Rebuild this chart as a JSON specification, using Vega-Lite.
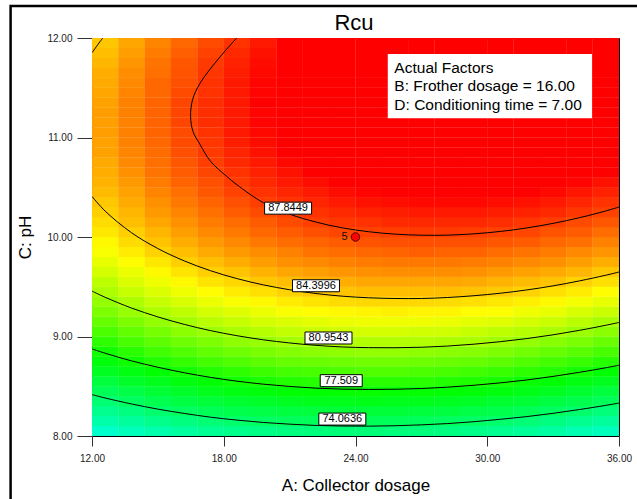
{
  "$schema": "https://vega.github.io/schema/vega-lite/v6.json",
  "width": 527,
  "height": 398,
  "autosize": {"type": "none"},
  "padding": {"left": 92, "top": 38, "right": 18, "bottom": 63},
  "background": "#ffffff",
  "config": {
    "font": "Liberation Sans",
    "view": {"stroke": "#000000", "strokeWidth": 1},
    "axis": {"grid": false, "domain": false, "labelFlush": false, "labelFont": "Liberation Sans", "labelFontSize": 10, "labelColor": "#222222", "tickColor": "#333333", "titleFont": "Liberation Sans", "titleFontSize": 17, "titleFontWeight": "normal", "titleColor": "#000000"},
    "axisX": {"tickSize": 10, "labelPadding": 7, "titlePadding": 14},
    "axisY": {"tickSize": 15, "labelPadding": 5, "titlePadding": 12}
  },
  "datasets": {
    "grid": [
      {"A":12.6,"C":8.05,"R":71.1},{"A":12.6,"C":8.15,"R":72.1},{"A":12.6,"C":8.25,"R":72.9},{"A":12.6,"C":8.35,"R":73.8},{"A":12.6,"C":8.45,"R":74.6},{"A":12.6,"C":8.55,"R":75.4},{"A":12.6,"C":8.65,"R":76.2},{"A":12.6,"C":8.75,"R":76.9},{"A":12.6,"C":8.85,"R":77.6},{"A":12.6,"C":8.95,"R":78.3},
      {"A":12.6,"C":9.05,"R":79.0},{"A":12.6,"C":9.15,"R":79.6},{"A":12.6,"C":9.25,"R":80.2},{"A":12.6,"C":9.35,"R":80.7},{"A":12.6,"C":9.45,"R":81.3},{"A":12.6,"C":9.55,"R":81.7},{"A":12.6,"C":9.65,"R":82.2},{"A":12.6,"C":9.75,"R":82.7},{"A":12.6,"C":9.85,"R":83.1},{"A":12.6,"C":9.95,"R":83.4},
      {"A":12.6,"C":10.05,"R":83.8},{"A":12.6,"C":10.15,"R":84.1},{"A":12.6,"C":10.25,"R":84.4},{"A":12.6,"C":10.35,"R":84.6},{"A":12.6,"C":10.45,"R":84.9},{"A":12.6,"C":10.55,"R":85.1},{"A":12.6,"C":10.65,"R":85.2},{"A":12.6,"C":10.75,"R":85.3},{"A":12.6,"C":10.85,"R":85.5},{"A":12.6,"C":10.95,"R":85.5},
      {"A":12.6,"C":11.05,"R":85.6},{"A":12.6,"C":11.15,"R":85.6},{"A":12.6,"C":11.25,"R":85.6},{"A":12.6,"C":11.35,"R":85.5},{"A":12.6,"C":11.45,"R":85.4},{"A":12.6,"C":11.55,"R":85.3},{"A":12.6,"C":11.65,"R":85.2},{"A":12.6,"C":11.75,"R":85.0},{"A":12.6,"C":11.85,"R":84.8},{"A":12.6,"C":11.95,"R":84.6},

      {"A":13.8,"C":8.05,"R":71.6},{"A":13.8,"C":8.15,"R":72.5},{"A":13.8,"C":8.25,"R":73.4},{"A":13.8,"C":8.35,"R":74.3},{"A":13.8,"C":8.45,"R":75.1},{"A":13.8,"C":8.55,"R":76.0},{"A":13.8,"C":8.65,"R":76.7},{"A":13.8,"C":8.75,"R":77.5},{"A":13.8,"C":8.85,"R":78.2},{"A":13.8,"C":8.95,"R":78.9},
      {"A":13.8,"C":9.05,"R":79.5},{"A":13.8,"C":9.15,"R":80.2},{"A":13.8,"C":9.25,"R":80.8},{"A":13.8,"C":9.35,"R":81.3},{"A":13.8,"C":9.45,"R":81.9},{"A":13.8,"C":9.55,"R":82.4},{"A":13.8,"C":9.65,"R":82.8},{"A":13.8,"C":9.75,"R":83.3},{"A":13.8,"C":9.85,"R":83.7},{"A":13.8,"C":9.95,"R":84.1},
      {"A":13.8,"C":10.05,"R":84.4},{"A":13.8,"C":10.15,"R":84.8},{"A":13.8,"C":10.25,"R":85.0},{"A":13.8,"C":10.35,"R":85.3},{"A":13.8,"C":10.45,"R":85.5},{"A":13.8,"C":10.55,"R":85.7},{"A":13.8,"C":10.65,"R":85.9},{"A":13.8,"C":10.75,"R":86.1},{"A":13.8,"C":10.85,"R":86.2},{"A":13.8,"C":10.95,"R":86.3},
      {"A":13.8,"C":11.05,"R":86.3},{"A":13.8,"C":11.15,"R":86.3},{"A":13.8,"C":11.25,"R":86.3},{"A":13.8,"C":11.35,"R":86.3},{"A":13.8,"C":11.45,"R":86.2},{"A":13.8,"C":11.55,"R":86.1},{"A":13.8,"C":11.65,"R":86.0},{"A":13.8,"C":11.75,"R":85.8},{"A":13.8,"C":11.85,"R":85.6},{"A":13.8,"C":11.95,"R":85.4},

      {"A":15.0,"C":8.05,"R":72.0},{"A":15.0,"C":8.15,"R":73.0},{"A":15.0,"C":8.25,"R":73.9},{"A":15.0,"C":8.35,"R":74.8},{"A":15.0,"C":8.45,"R":75.6},{"A":15.0,"C":8.55,"R":76.4},{"A":15.0,"C":8.65,"R":77.2},{"A":15.0,"C":8.75,"R":78.0},{"A":15.0,"C":8.85,"R":78.7},{"A":15.0,"C":8.95,"R":79.4},
      {"A":15.0,"C":9.05,"R":80.0},{"A":15.0,"C":9.15,"R":80.7},{"A":15.0,"C":9.25,"R":81.3},{"A":15.0,"C":9.35,"R":81.9},{"A":15.0,"C":9.45,"R":82.4},{"A":15.0,"C":9.55,"R":82.9},{"A":15.0,"C":9.65,"R":83.4},{"A":15.0,"C":9.75,"R":83.8},{"A":15.0,"C":9.85,"R":84.3},{"A":15.0,"C":9.95,"R":84.7},
      {"A":15.0,"C":10.05,"R":85.0},{"A":15.0,"C":10.15,"R":85.4},{"A":15.0,"C":10.25,"R":85.7},{"A":15.0,"C":10.35,"R":85.9},{"A":15.0,"C":10.45,"R":86.2},{"A":15.0,"C":10.55,"R":86.4},{"A":15.0,"C":10.65,"R":86.6},{"A":15.0,"C":10.75,"R":86.7},{"A":15.0,"C":10.85,"R":86.8},{"A":15.0,"C":10.95,"R":86.9},
      {"A":15.0,"C":11.05,"R":87.0},{"A":15.0,"C":11.15,"R":87.0},{"A":15.0,"C":11.25,"R":87.0},{"A":15.0,"C":11.35,"R":87.0},{"A":15.0,"C":11.45,"R":86.9},{"A":15.0,"C":11.55,"R":86.9},{"A":15.0,"C":11.65,"R":86.7},{"A":15.0,"C":11.75,"R":86.6},{"A":15.0,"C":11.85,"R":86.4},{"A":15.0,"C":11.95,"R":86.2},

      {"A":16.2,"C":8.05,"R":72.4},{"A":16.2,"C":8.15,"R":73.4},{"A":16.2,"C":8.25,"R":74.3},{"A":16.2,"C":8.35,"R":75.2},{"A":16.2,"C":8.45,"R":76.0},{"A":16.2,"C":8.55,"R":76.8},{"A":16.2,"C":8.65,"R":77.6},{"A":16.2,"C":8.75,"R":78.4},{"A":16.2,"C":8.85,"R":79.1},{"A":16.2,"C":8.95,"R":79.8},
      {"A":16.2,"C":9.05,"R":80.5},{"A":16.2,"C":9.15,"R":81.1},{"A":16.2,"C":9.25,"R":81.7},{"A":16.2,"C":9.35,"R":82.3},{"A":16.2,"C":9.45,"R":82.9},{"A":16.2,"C":9.55,"R":83.4},{"A":16.2,"C":9.65,"R":83.9},{"A":16.2,"C":9.75,"R":84.4},{"A":16.2,"C":9.85,"R":84.8},{"A":16.2,"C":9.95,"R":85.2},
      {"A":16.2,"C":10.05,"R":85.6},{"A":16.2,"C":10.15,"R":85.9},{"A":16.2,"C":10.25,"R":86.2},{"A":16.2,"C":10.35,"R":86.5},{"A":16.2,"C":10.45,"R":86.7},{"A":16.2,"C":10.55,"R":87.0},{"A":16.2,"C":10.65,"R":87.2},{"A":16.2,"C":10.75,"R":87.3},{"A":16.2,"C":10.85,"R":87.5},{"A":16.2,"C":10.95,"R":87.6},
      {"A":16.2,"C":11.05,"R":87.6},{"A":16.2,"C":11.15,"R":87.7},{"A":16.2,"C":11.25,"R":87.7},{"A":16.2,"C":11.35,"R":87.7},{"A":16.2,"C":11.45,"R":87.6},{"A":16.2,"C":11.55,"R":87.5},{"A":16.2,"C":11.65,"R":87.4},{"A":16.2,"C":11.75,"R":87.3},{"A":16.2,"C":11.85,"R":87.1},{"A":16.2,"C":11.95,"R":86.9},

      {"A":17.4,"C":8.05,"R":72.8},{"A":17.4,"C":8.15,"R":73.7},{"A":17.4,"C":8.25,"R":74.6},{"A":17.4,"C":8.35,"R":75.5},{"A":17.4,"C":8.45,"R":76.4},{"A":17.4,"C":8.55,"R":77.2},{"A":17.4,"C":8.65,"R":78.0},{"A":17.4,"C":8.75,"R":78.8},{"A":17.4,"C":8.85,"R":79.5},{"A":17.4,"C":8.95,"R":80.2},
      {"A":17.4,"C":9.05,"R":80.9},{"A":17.4,"C":9.15,"R":81.6},{"A":17.4,"C":9.25,"R":82.2},{"A":17.4,"C":9.35,"R":82.8},{"A":17.4,"C":9.45,"R":83.3},{"A":17.4,"C":9.55,"R":83.9},{"A":17.4,"C":9.65,"R":84.4},{"A":17.4,"C":9.75,"R":84.8},{"A":17.4,"C":9.85,"R":85.3},{"A":17.4,"C":9.95,"R":85.7},
      {"A":17.4,"C":10.05,"R":86.1},{"A":17.4,"C":10.15,"R":86.4},{"A":17.4,"C":10.25,"R":86.7},{"A":17.4,"C":10.35,"R":87.0},{"A":17.4,"C":10.45,"R":87.3},{"A":17.4,"C":10.55,"R":87.5},{"A":17.4,"C":10.65,"R":87.7},{"A":17.4,"C":10.75,"R":87.9},{"A":17.4,"C":10.85,"R":88.0},{"A":17.4,"C":10.95,"R":88.1},
      {"A":17.4,"C":11.05,"R":88.2},{"A":17.4,"C":11.15,"R":88.3},{"A":17.4,"C":11.25,"R":88.3},{"A":17.4,"C":11.35,"R":88.3},{"A":17.4,"C":11.45,"R":88.2},{"A":17.4,"C":11.55,"R":88.2},{"A":17.4,"C":11.65,"R":88.1},{"A":17.4,"C":11.75,"R":88.0},{"A":17.4,"C":11.85,"R":87.8},{"A":17.4,"C":11.95,"R":87.6},

      {"A":18.6,"C":8.05,"R":73.0},{"A":18.6,"C":8.15,"R":74.0},{"A":18.6,"C":8.25,"R":74.9},{"A":18.6,"C":8.35,"R":75.8},{"A":18.6,"C":8.45,"R":76.7},{"A":18.6,"C":8.55,"R":77.5},{"A":18.6,"C":8.65,"R":78.3},{"A":18.6,"C":8.75,"R":79.1},{"A":18.6,"C":8.85,"R":79.8},{"A":18.6,"C":8.95,"R":80.6},
      {"A":18.6,"C":9.05,"R":81.2},{"A":18.6,"C":9.15,"R":81.9},{"A":18.6,"C":9.25,"R":82.5},{"A":18.6,"C":9.35,"R":83.1},{"A":18.6,"C":9.45,"R":83.7},{"A":18.6,"C":9.55,"R":84.2},{"A":18.6,"C":9.65,"R":84.7},{"A":18.6,"C":9.75,"R":85.2},{"A":18.6,"C":9.85,"R":85.7},{"A":18.6,"C":9.95,"R":86.1},
      {"A":18.6,"C":10.05,"R":86.5},{"A":18.6,"C":10.15,"R":86.8},{"A":18.6,"C":10.25,"R":87.2},{"A":18.6,"C":10.35,"R":87.5},{"A":18.6,"C":10.45,"R":87.8},{"A":18.6,"C":10.55,"R":88.0},{"A":18.6,"C":10.65,"R":88.2},{"A":18.6,"C":10.75,"R":88.4},{"A":18.6,"C":10.85,"R":88.5},{"A":18.6,"C":10.95,"R":88.7},
      {"A":18.6,"C":11.05,"R":88.8},{"A":18.6,"C":11.15,"R":88.8},{"A":18.6,"C":11.25,"R":88.8},{"A":18.6,"C":11.35,"R":88.8},{"A":18.6,"C":11.45,"R":88.8},{"A":18.6,"C":11.55,"R":88.8},{"A":18.6,"C":11.65,"R":88.7},{"A":18.6,"C":11.75,"R":88.6},{"A":18.6,"C":11.85,"R":88.4},{"A":18.6,"C":11.95,"R":88.2},

      {"A":19.8,"C":8.05,"R":73.2},{"A":19.8,"C":8.15,"R":74.2},{"A":19.8,"C":8.25,"R":75.1},{"A":19.8,"C":8.35,"R":76.0},{"A":19.8,"C":8.45,"R":76.9},{"A":19.8,"C":8.55,"R":77.8},{"A":19.8,"C":8.65,"R":78.6},{"A":19.8,"C":8.75,"R":79.4},{"A":19.8,"C":8.85,"R":80.1},{"A":19.8,"C":8.95,"R":80.8},
      {"A":19.8,"C":9.05,"R":81.5},{"A":19.8,"C":9.15,"R":82.2},{"A":19.8,"C":9.25,"R":82.8},{"A":19.8,"C":9.35,"R":83.4},{"A":19.8,"C":9.45,"R":84.0},{"A":19.8,"C":9.55,"R":84.6},{"A":19.8,"C":9.65,"R":85.1},{"A":19.8,"C":9.75,"R":85.6},{"A":19.8,"C":9.85,"R":86.0},{"A":19.8,"C":9.95,"R":86.5},
      {"A":19.8,"C":10.05,"R":86.9},{"A":19.8,"C":10.15,"R":87.2},{"A":19.8,"C":10.25,"R":87.6},{"A":19.8,"C":10.35,"R":87.9},{"A":19.8,"C":10.45,"R":88.2},{"A":19.8,"C":10.55,"R":88.4},{"A":19.8,"C":10.65,"R":88.6},{"A":19.8,"C":10.75,"R":88.8},{"A":19.8,"C":10.85,"R":89.0},{"A":19.8,"C":10.95,"R":89.1},
      {"A":19.8,"C":11.05,"R":89.2},{"A":19.8,"C":11.15,"R":89.3},{"A":19.8,"C":11.25,"R":89.3},{"A":19.8,"C":11.35,"R":89.4},{"A":19.8,"C":11.45,"R":89.3},{"A":19.8,"C":11.55,"R":89.3},{"A":19.8,"C":11.65,"R":89.2},{"A":19.8,"C":11.75,"R":89.1},{"A":19.8,"C":11.85,"R":89.0},{"A":19.8,"C":11.95,"R":88.8},

      {"A":21.0,"C":8.05,"R":73.4},{"A":21.0,"C":8.15,"R":74.4},{"A":21.0,"C":8.25,"R":75.3},{"A":21.0,"C":8.35,"R":76.2},{"A":21.0,"C":8.45,"R":77.1},{"A":21.0,"C":8.55,"R":78.0},{"A":21.0,"C":8.65,"R":78.8},{"A":21.0,"C":8.75,"R":79.6},{"A":21.0,"C":8.85,"R":80.3},{"A":21.0,"C":8.95,"R":81.1},
      {"A":21.0,"C":9.05,"R":81.8},{"A":21.0,"C":9.15,"R":82.4},{"A":21.0,"C":9.25,"R":83.1},{"A":21.0,"C":9.35,"R":83.7},{"A":21.0,"C":9.45,"R":84.3},{"A":21.0,"C":9.55,"R":84.8},{"A":21.0,"C":9.65,"R":85.4},{"A":21.0,"C":9.75,"R":85.9},{"A":21.0,"C":9.85,"R":86.3},{"A":21.0,"C":9.95,"R":86.8},
      {"A":21.0,"C":10.05,"R":87.2},{"A":21.0,"C":10.15,"R":87.6},{"A":21.0,"C":10.25,"R":87.9},{"A":21.0,"C":10.35,"R":88.2},{"A":21.0,"C":10.45,"R":88.5},{"A":21.0,"C":10.55,"R":88.8},{"A":21.0,"C":10.65,"R":89.0},{"A":21.0,"C":10.75,"R":89.2},{"A":21.0,"C":10.85,"R":89.4},{"A":21.0,"C":10.95,"R":89.5},
      {"A":21.0,"C":11.05,"R":89.7},{"A":21.0,"C":11.15,"R":89.7},{"A":21.0,"C":11.25,"R":89.8},{"A":21.0,"C":11.35,"R":89.8},{"A":21.0,"C":11.45,"R":89.8},{"A":21.0,"C":11.55,"R":89.8},{"A":21.0,"C":11.65,"R":89.7},{"A":21.0,"C":11.75,"R":89.6},{"A":21.0,"C":11.85,"R":89.5},{"A":21.0,"C":11.95,"R":89.4},

      {"A":22.2,"C":8.05,"R":73.5},{"A":22.2,"C":8.15,"R":74.5},{"A":22.2,"C":8.25,"R":75.4},{"A":22.2,"C":8.35,"R":76.4},{"A":22.2,"C":8.45,"R":77.2},{"A":22.2,"C":8.55,"R":78.1},{"A":22.2,"C":8.65,"R":78.9},{"A":22.2,"C":8.75,"R":79.7},{"A":22.2,"C":8.85,"R":80.5},{"A":22.2,"C":8.95,"R":81.2},
      {"A":22.2,"C":9.05,"R":82.0},{"A":22.2,"C":9.15,"R":82.6},{"A":22.2,"C":9.25,"R":83.3},{"A":22.2,"C":9.35,"R":83.9},{"A":22.2,"C":9.45,"R":84.5},{"A":22.2,"C":9.55,"R":85.1},{"A":22.2,"C":9.65,"R":85.6},{"A":22.2,"C":9.75,"R":86.1},{"A":22.2,"C":9.85,"R":86.6},{"A":22.2,"C":9.95,"R":87.0},
      {"A":22.2,"C":10.05,"R":87.5},{"A":22.2,"C":10.15,"R":87.9},{"A":22.2,"C":10.25,"R":88.2},{"A":22.2,"C":10.35,"R":88.5},{"A":22.2,"C":10.45,"R":88.8},{"A":22.2,"C":10.55,"R":89.1},{"A":22.2,"C":10.65,"R":89.4},{"A":22.2,"C":10.75,"R":89.6},{"A":22.2,"C":10.85,"R":89.8},{"A":22.2,"C":10.95,"R":89.9},
      {"A":22.2,"C":11.05,"R":90.0},{"A":22.2,"C":11.15,"R":90.1},{"A":22.2,"C":11.25,"R":90.2},{"A":22.2,"C":11.35,"R":90.2},{"A":22.2,"C":11.45,"R":90.2},{"A":22.2,"C":11.55,"R":90.2},{"A":22.2,"C":11.65,"R":90.2},{"A":22.2,"C":11.75,"R":90.1},{"A":22.2,"C":11.85,"R":90.0},{"A":22.2,"C":11.95,"R":89.8},

      {"A":23.4,"C":8.05,"R":73.6},{"A":23.4,"C":8.15,"R":74.6},{"A":23.4,"C":8.25,"R":75.5},{"A":23.4,"C":8.35,"R":76.4},{"A":23.4,"C":8.45,"R":77.3},{"A":23.4,"C":8.55,"R":78.2},{"A":23.4,"C":8.65,"R":79.0},{"A":23.4,"C":8.75,"R":79.8},{"A":23.4,"C":8.85,"R":80.6},{"A":23.4,"C":8.95,"R":81.4},
      {"A":23.4,"C":9.05,"R":82.1},{"A":23.4,"C":9.15,"R":82.8},{"A":23.4,"C":9.25,"R":83.4},{"A":23.4,"C":9.35,"R":84.1},{"A":23.4,"C":9.45,"R":84.7},{"A":23.4,"C":9.55,"R":85.2},{"A":23.4,"C":9.65,"R":85.8},{"A":23.4,"C":9.75,"R":86.3},{"A":23.4,"C":9.85,"R":86.8},{"A":23.4,"C":9.95,"R":87.2},
      {"A":23.4,"C":10.05,"R":87.7},{"A":23.4,"C":10.15,"R":88.1},{"A":23.4,"C":10.25,"R":88.4},{"A":23.4,"C":10.35,"R":88.8},{"A":23.4,"C":10.45,"R":89.1},{"A":23.4,"C":10.55,"R":89.4},{"A":23.4,"C":10.65,"R":89.6},{"A":23.4,"C":10.75,"R":89.9},{"A":23.4,"C":10.85,"R":90.1},{"A":23.4,"C":10.95,"R":90.2},
      {"A":23.4,"C":11.05,"R":90.4},{"A":23.4,"C":11.15,"R":90.5},{"A":23.4,"C":11.25,"R":90.5},{"A":23.4,"C":11.35,"R":90.6},{"A":23.4,"C":11.45,"R":90.6},{"A":23.4,"C":11.55,"R":90.6},{"A":23.4,"C":11.65,"R":90.6},{"A":23.4,"C":11.75,"R":90.5},{"A":23.4,"C":11.85,"R":90.4},{"A":23.4,"C":11.95,"R":90.3},

      {"A":24.6,"C":8.05,"R":73.6},{"A":24.6,"C":8.15,"R":74.6},{"A":24.6,"C":8.25,"R":75.5},{"A":24.6,"C":8.35,"R":76.5},{"A":24.6,"C":8.45,"R":77.4},{"A":24.6,"C":8.55,"R":78.2},{"A":24.6,"C":8.65,"R":79.1},{"A":24.6,"C":8.75,"R":79.9},{"A":24.6,"C":8.85,"R":80.7},{"A":24.6,"C":8.95,"R":81.4},
      {"A":24.6,"C":9.05,"R":82.2},{"A":24.6,"C":9.15,"R":82.9},{"A":24.6,"C":9.25,"R":83.5},{"A":24.6,"C":9.35,"R":84.2},{"A":24.6,"C":9.45,"R":84.8},{"A":24.6,"C":9.55,"R":85.4},{"A":24.6,"C":9.65,"R":85.9},{"A":24.6,"C":9.75,"R":86.4},{"A":24.6,"C":9.85,"R":86.9},{"A":24.6,"C":9.95,"R":87.4},
      {"A":24.6,"C":10.05,"R":87.8},{"A":24.6,"C":10.15,"R":88.2},{"A":24.6,"C":10.25,"R":88.6},{"A":24.6,"C":10.35,"R":89.0},{"A":24.6,"C":10.45,"R":89.3},{"A":24.6,"C":10.55,"R":89.6},{"A":24.6,"C":10.65,"R":89.9},{"A":24.6,"C":10.75,"R":90.1},{"A":24.6,"C":10.85,"R":90.3},{"A":24.6,"C":10.95,"R":90.5},
      {"A":24.6,"C":11.05,"R":90.6},{"A":24.6,"C":11.15,"R":90.7},{"A":24.6,"C":11.25,"R":90.8},{"A":24.6,"C":11.35,"R":90.9},{"A":24.6,"C":11.45,"R":90.9},{"A":24.6,"C":11.55,"R":90.9},{"A":24.6,"C":11.65,"R":90.9},{"A":24.6,"C":11.75,"R":90.8},{"A":24.6,"C":11.85,"R":90.8},{"A":24.6,"C":11.95,"R":90.7},

      {"A":25.8,"C":8.05,"R":73.5},{"A":25.8,"C":8.15,"R":74.5},{"A":25.8,"C":8.25,"R":75.5},{"A":25.8,"C":8.35,"R":76.4},{"A":25.8,"C":8.45,"R":77.3},{"A":25.8,"C":8.55,"R":78.2},{"A":25.8,"C":8.65,"R":79.1},{"A":25.8,"C":8.75,"R":79.9},{"A":25.8,"C":8.85,"R":80.7},{"A":25.8,"C":8.95,"R":81.4},
      {"A":25.8,"C":9.05,"R":82.2},{"A":25.8,"C":9.15,"R":82.9},{"A":25.8,"C":9.25,"R":83.6},{"A":25.8,"C":9.35,"R":84.2},{"A":25.8,"C":9.45,"R":84.8},{"A":25.8,"C":9.55,"R":85.4},{"A":25.8,"C":9.65,"R":86.0},{"A":25.8,"C":9.75,"R":86.5},{"A":25.8,"C":9.85,"R":87.0},{"A":25.8,"C":9.95,"R":87.5},
      {"A":25.8,"C":10.05,"R":87.9},{"A":25.8,"C":10.15,"R":88.4},{"A":25.8,"C":10.25,"R":88.7},{"A":25.8,"C":10.35,"R":89.1},{"A":25.8,"C":10.45,"R":89.4},{"A":25.8,"C":10.55,"R":89.7},{"A":25.8,"C":10.65,"R":90.0},{"A":25.8,"C":10.75,"R":90.3},{"A":25.8,"C":10.85,"R":90.5},{"A":25.8,"C":10.95,"R":90.7},
      {"A":25.8,"C":11.05,"R":90.8},{"A":25.8,"C":11.15,"R":91.0},{"A":25.8,"C":11.25,"R":91.1},{"A":25.8,"C":11.35,"R":91.1},{"A":25.8,"C":11.45,"R":91.2},{"A":25.8,"C":11.55,"R":91.2},{"A":25.8,"C":11.65,"R":91.2},{"A":25.8,"C":11.75,"R":91.1},{"A":25.8,"C":11.85,"R":91.1},{"A":25.8,"C":11.95,"R":91.0},

      {"A":27.0,"C":8.05,"R":73.5},{"A":27.0,"C":8.15,"R":74.4},{"A":27.0,"C":8.25,"R":75.4},{"A":27.0,"C":8.35,"R":76.4},{"A":27.0,"C":8.45,"R":77.3},{"A":27.0,"C":8.55,"R":78.2},{"A":27.0,"C":8.65,"R":79.0},{"A":27.0,"C":8.75,"R":79.8},{"A":27.0,"C":8.85,"R":80.6},{"A":27.0,"C":8.95,"R":81.4},
      {"A":27.0,"C":9.05,"R":82.1},{"A":27.0,"C":9.15,"R":82.9},{"A":27.0,"C":9.25,"R":83.5},{"A":27.0,"C":9.35,"R":84.2},{"A":27.0,"C":9.45,"R":84.8},{"A":27.0,"C":9.55,"R":85.4},{"A":27.0,"C":9.65,"R":86.0},{"A":27.0,"C":9.75,"R":86.5},{"A":27.0,"C":9.85,"R":87.1},{"A":27.0,"C":9.95,"R":87.5},
      {"A":27.0,"C":10.05,"R":88.0},{"A":27.0,"C":10.15,"R":88.4},{"A":27.0,"C":10.25,"R":88.8},{"A":27.0,"C":10.35,"R":89.2},{"A":27.0,"C":10.45,"R":89.5},{"A":27.0,"C":10.55,"R":89.9},{"A":27.0,"C":10.65,"R":90.1},{"A":27.0,"C":10.75,"R":90.4},{"A":27.0,"C":10.85,"R":90.6},{"A":27.0,"C":10.95,"R":90.8},
      {"A":27.0,"C":11.05,"R":91.0},{"A":27.0,"C":11.15,"R":91.1},{"A":27.0,"C":11.25,"R":91.3},{"A":27.0,"C":11.35,"R":91.3},{"A":27.0,"C":11.45,"R":91.4},{"A":27.0,"C":11.55,"R":91.4},{"A":27.0,"C":11.65,"R":91.4},{"A":27.0,"C":11.75,"R":91.4},{"A":27.0,"C":11.85,"R":91.3},{"A":27.0,"C":11.95,"R":91.3},

      {"A":28.2,"C":8.05,"R":73.3},{"A":28.2,"C":8.15,"R":74.3},{"A":28.2,"C":8.25,"R":75.3},{"A":28.2,"C":8.35,"R":76.2},{"A":28.2,"C":8.45,"R":77.1},{"A":28.2,"C":8.55,"R":78.0},{"A":28.2,"C":8.65,"R":78.9},{"A":28.2,"C":8.75,"R":79.7},{"A":28.2,"C":8.85,"R":80.5},{"A":28.2,"C":8.95,"R":81.3},
      {"A":28.2,"C":9.05,"R":82.1},{"A":28.2,"C":9.15,"R":82.8},{"A":28.2,"C":9.25,"R":83.5},{"A":28.2,"C":9.35,"R":84.1},{"A":28.2,"C":9.45,"R":84.8},{"A":28.2,"C":9.55,"R":85.4},{"A":28.2,"C":9.65,"R":86.0},{"A":28.2,"C":9.75,"R":86.5},{"A":28.2,"C":9.85,"R":87.0},{"A":28.2,"C":9.95,"R":87.5},
      {"A":28.2,"C":10.05,"R":88.0},{"A":28.2,"C":10.15,"R":88.4},{"A":28.2,"C":10.25,"R":88.8},{"A":28.2,"C":10.35,"R":89.2},{"A":28.2,"C":10.45,"R":89.6},{"A":28.2,"C":10.55,"R":89.9},{"A":28.2,"C":10.65,"R":90.2},{"A":28.2,"C":10.75,"R":90.5},{"A":28.2,"C":10.85,"R":90.7},{"A":28.2,"C":10.95,"R":90.9},
      {"A":28.2,"C":11.05,"R":91.1},{"A":28.2,"C":11.15,"R":91.3},{"A":28.2,"C":11.25,"R":91.4},{"A":28.2,"C":11.35,"R":91.5},{"A":28.2,"C":11.45,"R":91.6},{"A":28.2,"C":11.55,"R":91.6},{"A":28.2,"C":11.65,"R":91.6},{"A":28.2,"C":11.75,"R":91.6},{"A":28.2,"C":11.85,"R":91.6},{"A":28.2,"C":11.95,"R":91.5},

      {"A":29.4,"C":8.05,"R":73.1},{"A":29.4,"C":8.15,"R":74.1},{"A":29.4,"C":8.25,"R":75.1},{"A":29.4,"C":8.35,"R":76.1},{"A":29.4,"C":8.45,"R":77.0},{"A":29.4,"C":8.55,"R":77.9},{"A":29.4,"C":8.65,"R":78.7},{"A":29.4,"C":8.75,"R":79.6},{"A":29.4,"C":8.85,"R":80.4},{"A":29.4,"C":8.95,"R":81.2},
      {"A":29.4,"C":9.05,"R":81.9},{"A":29.4,"C":9.15,"R":82.6},{"A":29.4,"C":9.25,"R":83.3},{"A":29.4,"C":9.35,"R":84.0},{"A":29.4,"C":9.45,"R":84.7},{"A":29.4,"C":9.55,"R":85.3},{"A":29.4,"C":9.65,"R":85.9},{"A":29.4,"C":9.75,"R":86.4},{"A":29.4,"C":9.85,"R":87.0},{"A":29.4,"C":9.95,"R":87.5},
      {"A":29.4,"C":10.05,"R":87.9},{"A":29.4,"C":10.15,"R":88.4},{"A":29.4,"C":10.25,"R":88.8},{"A":29.4,"C":10.35,"R":89.2},{"A":29.4,"C":10.45,"R":89.6},{"A":29.4,"C":10.55,"R":89.9},{"A":29.4,"C":10.65,"R":90.2},{"A":29.4,"C":10.75,"R":90.5},{"A":29.4,"C":10.85,"R":90.7},{"A":29.4,"C":10.95,"R":91.0},
      {"A":29.4,"C":11.05,"R":91.1},{"A":29.4,"C":11.15,"R":91.3},{"A":29.4,"C":11.25,"R":91.5},{"A":29.4,"C":11.35,"R":91.6},{"A":29.4,"C":11.45,"R":91.7},{"A":29.4,"C":11.55,"R":91.7},{"A":29.4,"C":11.65,"R":91.7},{"A":29.4,"C":11.75,"R":91.7},{"A":29.4,"C":11.85,"R":91.7},{"A":29.4,"C":11.95,"R":91.7},

      {"A":30.6,"C":8.05,"R":72.9},{"A":30.6,"C":8.15,"R":73.9},{"A":30.6,"C":8.25,"R":74.9},{"A":30.6,"C":8.35,"R":75.8},{"A":30.6,"C":8.45,"R":76.8},{"A":30.6,"C":8.55,"R":77.7},{"A":30.6,"C":8.65,"R":78.5},{"A":30.6,"C":8.75,"R":79.4},{"A":30.6,"C":8.85,"R":80.2},{"A":30.6,"C":8.95,"R":81.0},
      {"A":30.6,"C":9.05,"R":81.7},{"A":30.6,"C":9.15,"R":82.5},{"A":30.6,"C":9.25,"R":83.2},{"A":30.6,"C":9.35,"R":83.8},{"A":30.6,"C":9.45,"R":84.5},{"A":30.6,"C":9.55,"R":85.1},{"A":30.6,"C":9.65,"R":85.7},{"A":30.6,"C":9.75,"R":86.3},{"A":30.6,"C":9.85,"R":86.8},{"A":30.6,"C":9.95,"R":87.3},
      {"A":30.6,"C":10.05,"R":87.8},{"A":30.6,"C":10.15,"R":88.3},{"A":30.6,"C":10.25,"R":88.7},{"A":30.6,"C":10.35,"R":89.1},{"A":30.6,"C":10.45,"R":89.5},{"A":30.6,"C":10.55,"R":89.8},{"A":30.6,"C":10.65,"R":90.1},{"A":30.6,"C":10.75,"R":90.4},{"A":30.6,"C":10.85,"R":90.7},{"A":30.6,"C":10.95,"R":90.9},
      {"A":30.6,"C":11.05,"R":91.1},{"A":30.6,"C":11.15,"R":91.3},{"A":30.6,"C":11.25,"R":91.5},{"A":30.6,"C":11.35,"R":91.6},{"A":30.6,"C":11.45,"R":91.7},{"A":30.6,"C":11.55,"R":91.8},{"A":30.6,"C":11.65,"R":91.8},{"A":30.6,"C":11.75,"R":91.8},{"A":30.6,"C":11.85,"R":91.8},{"A":30.6,"C":11.95,"R":91.8},

      {"A":31.8,"C":8.05,"R":72.6},{"A":31.8,"C":8.15,"R":73.6},{"A":31.8,"C":8.25,"R":74.6},{"A":31.8,"C":8.35,"R":75.6},{"A":31.8,"C":8.45,"R":76.5},{"A":31.8,"C":8.55,"R":77.4},{"A":31.8,"C":8.65,"R":78.3},{"A":31.8,"C":8.75,"R":79.1},{"A":31.8,"C":8.85,"R":79.9},{"A":31.8,"C":8.95,"R":80.7},
      {"A":31.8,"C":9.05,"R":81.5},{"A":31.8,"C":9.15,"R":82.2},{"A":31.8,"C":9.25,"R":82.9},{"A":31.8,"C":9.35,"R":83.6},{"A":31.8,"C":9.45,"R":84.3},{"A":31.8,"C":9.55,"R":84.9},{"A":31.8,"C":9.65,"R":85.5},{"A":31.8,"C":9.75,"R":86.1},{"A":31.8,"C":9.85,"R":86.6},{"A":31.8,"C":9.95,"R":87.2},
      {"A":31.8,"C":10.05,"R":87.7},{"A":31.8,"C":10.15,"R":88.1},{"A":31.8,"C":10.25,"R":88.6},{"A":31.8,"C":10.35,"R":89.0},{"A":31.8,"C":10.45,"R":89.4},{"A":31.8,"C":10.55,"R":89.7},{"A":31.8,"C":10.65,"R":90.0},{"A":31.8,"C":10.75,"R":90.3},{"A":31.8,"C":10.85,"R":90.6},{"A":31.8,"C":10.95,"R":90.9},
      {"A":31.8,"C":11.05,"R":91.1},{"A":31.8,"C":11.15,"R":91.3},{"A":31.8,"C":11.25,"R":91.4},{"A":31.8,"C":11.35,"R":91.6},{"A":31.8,"C":11.45,"R":91.7},{"A":31.8,"C":11.55,"R":91.8},{"A":31.8,"C":11.65,"R":91.8},{"A":31.8,"C":11.75,"R":91.9},{"A":31.8,"C":11.85,"R":91.9},{"A":31.8,"C":11.95,"R":91.8},

      {"A":33.0,"C":8.05,"R":72.3},{"A":33.0,"C":8.15,"R":73.3},{"A":33.0,"C":8.25,"R":74.3},{"A":33.0,"C":8.35,"R":75.2},{"A":33.0,"C":8.45,"R":76.2},{"A":33.0,"C":8.55,"R":77.1},{"A":33.0,"C":8.65,"R":78.0},{"A":33.0,"C":8.75,"R":78.8},{"A":33.0,"C":8.85,"R":79.6},{"A":33.0,"C":8.95,"R":80.4},
      {"A":33.0,"C":9.05,"R":81.2},{"A":33.0,"C":9.15,"R":82.0},{"A":33.0,"C":9.25,"R":82.7},{"A":33.0,"C":9.35,"R":83.4},{"A":33.0,"C":9.45,"R":84.0},{"A":33.0,"C":9.55,"R":84.7},{"A":33.0,"C":9.65,"R":85.3},{"A":33.0,"C":9.75,"R":85.9},{"A":33.0,"C":9.85,"R":86.4},{"A":33.0,"C":9.95,"R":86.9},
      {"A":33.0,"C":10.05,"R":87.4},{"A":33.0,"C":10.15,"R":87.9},{"A":33.0,"C":10.25,"R":88.4},{"A":33.0,"C":10.35,"R":88.8},{"A":33.0,"C":10.45,"R":89.2},{"A":33.0,"C":10.55,"R":89.5},{"A":33.0,"C":10.65,"R":89.9},{"A":33.0,"C":10.75,"R":90.2},{"A":33.0,"C":10.85,"R":90.5},{"A":33.0,"C":10.95,"R":90.7},
      {"A":33.0,"C":11.05,"R":91.0},{"A":33.0,"C":11.15,"R":91.2},{"A":33.0,"C":11.25,"R":91.3},{"A":33.0,"C":11.35,"R":91.5},{"A":33.0,"C":11.45,"R":91.6},{"A":33.0,"C":11.55,"R":91.7},{"A":33.0,"C":11.65,"R":91.8},{"A":33.0,"C":11.75,"R":91.8},{"A":33.0,"C":11.85,"R":91.8},{"A":33.0,"C":11.95,"R":91.8},

      {"A":34.2,"C":8.05,"R":71.9},{"A":34.2,"C":8.15,"R":72.9},{"A":34.2,"C":8.25,"R":73.9},{"A":34.2,"C":8.35,"R":74.9},{"A":34.2,"C":8.45,"R":75.8},{"A":34.2,"C":8.55,"R":76.7},{"A":34.2,"C":8.65,"R":77.6},{"A":34.2,"C":8.75,"R":78.5},{"A":34.2,"C":8.85,"R":79.3},{"A":34.2,"C":8.95,"R":80.1},
      {"A":34.2,"C":9.05,"R":80.9},{"A":34.2,"C":9.15,"R":81.6},{"A":34.2,"C":9.25,"R":82.3},{"A":34.2,"C":9.35,"R":83.0},{"A":34.2,"C":9.45,"R":83.7},{"A":34.2,"C":9.55,"R":84.3},{"A":34.2,"C":9.65,"R":85.0},{"A":34.2,"C":9.75,"R":85.6},{"A":34.2,"C":9.85,"R":86.1},{"A":34.2,"C":9.95,"R":86.7},
      {"A":34.2,"C":10.05,"R":87.2},{"A":34.2,"C":10.15,"R":87.6},{"A":34.2,"C":10.25,"R":88.1},{"A":34.2,"C":10.35,"R":88.5},{"A":34.2,"C":10.45,"R":88.9},{"A":34.2,"C":10.55,"R":89.3},{"A":34.2,"C":10.65,"R":89.7},{"A":34.2,"C":10.75,"R":90.0},{"A":34.2,"C":10.85,"R":90.3},{"A":34.2,"C":10.95,"R":90.6},
      {"A":34.2,"C":11.05,"R":90.8},{"A":34.2,"C":11.15,"R":91.0},{"A":34.2,"C":11.25,"R":91.2},{"A":34.2,"C":11.35,"R":91.4},{"A":34.2,"C":11.45,"R":91.5},{"A":34.2,"C":11.55,"R":91.6},{"A":34.2,"C":11.65,"R":91.7},{"A":34.2,"C":11.75,"R":91.8},{"A":34.2,"C":11.85,"R":91.8},{"A":34.2,"C":11.95,"R":91.8},

      {"A":35.4,"C":8.05,"R":71.5},{"A":35.4,"C":8.15,"R":72.5},{"A":35.4,"C":8.25,"R":73.5},{"A":35.4,"C":8.35,"R":74.5},{"A":35.4,"C":8.45,"R":75.4},{"A":35.4,"C":8.55,"R":76.3},{"A":35.4,"C":8.65,"R":77.2},{"A":35.4,"C":8.75,"R":78.1},{"A":35.4,"C":8.85,"R":78.9},{"A":35.4,"C":8.95,"R":79.7},
      {"A":35.4,"C":9.05,"R":80.5},{"A":35.4,"C":9.15,"R":81.2},{"A":35.4,"C":9.25,"R":82.0},{"A":35.4,"C":9.35,"R":82.7},{"A":35.4,"C":9.45,"R":83.3},{"A":35.4,"C":9.55,"R":84.0},{"A":35.4,"C":9.65,"R":84.6},{"A":35.4,"C":9.75,"R":85.2},{"A":35.4,"C":9.85,"R":85.8},{"A":35.4,"C":9.95,"R":86.3},
      {"A":35.4,"C":10.05,"R":86.8},{"A":35.4,"C":10.15,"R":87.3},{"A":35.4,"C":10.25,"R":87.8},{"A":35.4,"C":10.35,"R":88.2},{"A":35.4,"C":10.45,"R":88.6},{"A":35.4,"C":10.55,"R":89.0},{"A":35.4,"C":10.65,"R":89.4},{"A":35.4,"C":10.75,"R":89.7},{"A":35.4,"C":10.85,"R":90.0},{"A":35.4,"C":10.95,"R":90.3},
      {"A":35.4,"C":11.05,"R":90.6},{"A":35.4,"C":11.15,"R":90.8},{"A":35.4,"C":11.25,"R":91.0},{"A":35.4,"C":11.35,"R":91.2},{"A":35.4,"C":11.45,"R":91.3},{"A":35.4,"C":11.55,"R":91.5},{"A":35.4,"C":11.65,"R":91.5},{"A":35.4,"C":11.75,"R":91.6},{"A":35.4,"C":11.85,"R":91.7},{"A":35.4,"C":11.95,"R":91.7}
    ],
    "contours": [
      {"path":"74.0636","i":0,"A":12,"C":8.416},{"path":"74.0636","i":1,"A":12.6,"C":8.382},{"path":"74.0636","i":2,"A":13.8,"C":8.322},{"path":"74.0636","i":3,"A":15,"C":8.27},{"path":"74.0636","i":4,"A":16.2,"C":8.227},{"path":"74.0636","i":5,"A":17.4,"C":8.189},{"path":"74.0636","i":6,"A":18.6,"C":8.16},{"path":"74.0636","i":7,"A":19.8,"C":8.136},{"path":"74.0636","i":8,"A":21,"C":8.119},{"path":"74.0636","i":9,"A":22.2,"C":8.106},{"path":"74.0636","i":10,"A":23.4,"C":8.1},{"path":"74.0636","i":11,"A":24.6,"C":8.099},{"path":"74.0636","i":12,"A":25.8,"C":8.103},{"path":"74.0636","i":13,"A":27,"C":8.112},{"path":"74.0636","i":14,"A":28.2,"C":8.125},{"path":"74.0636","i":15,"A":29.4,"C":8.144},{"path":"74.0636","i":16,"A":30.6,"C":8.168},{"path":"74.0636","i":17,"A":31.8,"C":8.195},{"path":"74.0636","i":18,"A":33,"C":8.228},{"path":"74.0636","i":19,"A":34.2,"C":8.266},{"path":"74.0636","i":20,"A":35.4,"C":8.308},{"path":"74.0636","i":21,"A":36,"C":8.331},
      {"path":"77.509","i":0,"A":12,"C":8.875},{"path":"77.509","i":1,"A":12.6,"C":8.832},{"path":"77.509","i":2,"A":13.8,"C":8.755},{"path":"77.509","i":3,"A":15,"C":8.691},{"path":"77.509","i":4,"A":16.2,"C":8.636},{"path":"77.509","i":5,"A":17.4,"C":8.589},{"path":"77.509","i":6,"A":18.6,"C":8.551},{"path":"77.509","i":7,"A":19.8,"C":8.521},{"path":"77.509","i":8,"A":21,"C":8.498},{"path":"77.509","i":9,"A":22.2,"C":8.481},{"path":"77.509","i":10,"A":23.4,"C":8.471},{"path":"77.509","i":11,"A":24.6,"C":8.468},{"path":"77.509","i":12,"A":25.8,"C":8.47},{"path":"77.509","i":13,"A":27,"C":8.477},{"path":"77.509","i":14,"A":28.2,"C":8.491},{"path":"77.509","i":15,"A":29.4,"C":8.51},{"path":"77.509","i":16,"A":30.6,"C":8.534},{"path":"77.509","i":17,"A":31.8,"C":8.563},{"path":"77.509","i":18,"A":33,"C":8.599},{"path":"77.509","i":19,"A":34.2,"C":8.64},{"path":"77.509","i":20,"A":35.4,"C":8.686},{"path":"77.509","i":21,"A":36,"C":8.711},
      {"path":"80.9543","i":0,"A":12,"C":9.456},{"path":"80.9543","i":1,"A":12.6,"C":9.394},{"path":"80.9543","i":2,"A":13.8,"C":9.286},{"path":"80.9543","i":3,"A":15,"C":9.197},{"path":"80.9543","i":4,"A":16.2,"C":9.122},{"path":"80.9543","i":5,"A":17.4,"C":9.059},{"path":"80.9543","i":6,"A":18.6,"C":9.008},{"path":"80.9543","i":7,"A":19.8,"C":8.967},{"path":"80.9543","i":8,"A":21,"C":8.935},{"path":"80.9543","i":9,"A":22.2,"C":8.911},{"path":"80.9543","i":10,"A":23.4,"C":8.895},{"path":"80.9543","i":11,"A":24.6,"C":8.888},{"path":"80.9543","i":12,"A":25.8,"C":8.887},{"path":"80.9543","i":13,"A":27,"C":8.892},{"path":"80.9543","i":14,"A":28.2,"C":8.904},{"path":"80.9543","i":15,"A":29.4,"C":8.923},{"path":"80.9543","i":16,"A":30.6,"C":8.948},{"path":"80.9543","i":17,"A":31.8,"C":8.979},{"path":"80.9543","i":18,"A":33,"C":9.017},{"path":"80.9543","i":19,"A":34.2,"C":9.062},{"path":"80.9543","i":20,"A":35.4,"C":9.113},{"path":"80.9543","i":21,"A":36,"C":9.141},
      {"path":"84.3996","i":0,"A":12,"C":10.408},{"path":"84.3996","i":1,"A":12.6,"C":10.26},{"path":"84.3996","i":2,"A":13.8,"C":10.043},{"path":"84.3996","i":3,"A":15,"C":9.884},{"path":"84.3996","i":4,"A":16.2,"C":9.76},{"path":"84.3996","i":5,"A":17.4,"C":9.661},{"path":"84.3996","i":6,"A":18.6,"C":9.582},{"path":"84.3996","i":7,"A":19.8,"C":9.519},{"path":"84.3996","i":8,"A":21,"C":9.47},{"path":"84.3996","i":9,"A":22.2,"C":9.432},{"path":"84.3996","i":10,"A":23.4,"C":9.405},{"path":"84.3996","i":11,"A":24.6,"C":9.389},{"path":"84.3996","i":12,"A":25.8,"C":9.382},{"path":"84.3996","i":13,"A":27,"C":9.382},{"path":"84.3996","i":14,"A":28.2,"C":9.392},{"path":"84.3996","i":15,"A":29.4,"C":9.41},{"path":"84.3996","i":16,"A":30.6,"C":9.435},{"path":"84.3996","i":17,"A":31.8,"C":9.468},{"path":"84.3996","i":18,"A":33,"C":9.509},{"path":"84.3996","i":19,"A":34.2,"C":9.559},{"path":"84.3996","i":20,"A":35.4,"C":9.616},{"path":"84.3996","i":21,"A":36,"C":9.648},
      {"path":"84.3996 corner","i":0,"A":12,"C":11.852},{"path":"84.3996 corner","i":1,"A":12.36,"C":11.962},{"path":"84.3996 corner","i":2,"A":12.49,"C":12.0},
      {"path":"87.8449","i":0,"A":18.59,"C":12.0},{"path":"87.8449","i":1,"A":17.83,"C":11.81},{"path":"87.8449","i":2,"A":16.92,"C":11.545},{"path":"87.8449","i":3,"A":16.58,"C":11.38},{"path":"87.8449","i":4,"A":16.49,"C":11.21},{"path":"87.8449","i":5,"A":16.6,"C":11.06},{"path":"87.8449","i":6,"A":16.92,"C":10.93},{"path":"87.8449","i":7,"A":17.4,"C":10.76},{"path":"87.8449","i":8,"A":18.13,"C":10.61},{"path":"87.8449","i":9,"A":18.6,"C":10.525},{"path":"87.8449","i":10,"A":19.8,"C":10.345},{"path":"87.8449","i":11,"A":21,"C":10.23},{"path":"87.8449","i":12,"A":22.2,"C":10.15},{"path":"87.8449","i":13,"A":23.4,"C":10.092},{"path":"87.8449","i":14,"A":24.6,"C":10.053},{"path":"87.8449","i":15,"A":25.8,"C":10.029},{"path":"87.8449","i":16,"A":27,"C":10.018},{"path":"87.8449","i":17,"A":28.2,"C":10.019},{"path":"87.8449","i":18,"A":29.4,"C":10.032},{"path":"87.8449","i":19,"A":30.6,"C":10.056},{"path":"87.8449","i":20,"A":31.8,"C":10.091},{"path":"87.8449","i":21,"A":33,"C":10.137},{"path":"87.8449","i":22,"A":34.2,"C":10.194},{"path":"87.8449","i":23,"A":35.4,"C":10.262},{"path":"87.8449","i":24,"A":36,"C":10.301}
    ],
    "labels": [
      {"label":"87.8449","A":20.93,"C":10.29},
      {"label":"84.3996","A":22.2,"C":9.51},
      {"label":"80.9543","A":22.77,"C":8.985},
      {"label":"77.509","A":23.35,"C":8.556},
      {"label":"74.0636","A":23.4,"C":8.17}
    ],
    "runs": [
      {"A":24,"C":10,"run":"5"}
    ]
  },
  "layer": [
    {
      "data": {"name": "grid"},
      "mark": {"type": "rect", "width": 26.6, "height": 10.2, "clip": true},
      "encoding": {
        "x": {"field": "A", "type": "quantitative", "scale": {"domain": [12, 36], "nice": false, "zero": false}, "axis": {"values": [12, 18, 24, 30, 36], "format": ".2f", "title": "A: Collector dosage"}},
        "y": {"field": "C", "type": "quantitative", "scale": {"domain": [8, 12], "nice": false, "zero": false}, "axis": {"values": [8, 9, 10, 11, 12], "format": ".2f", "title": "C: pH"}},
        "color": {"field": "R", "type": "quantitative", "scale": {"type": "linear", "domain": [69.5, 77.2, 83.25, 89.4], "range": ["#00ffff", "#00ff00", "#ffff00", "#ff0000"], "clamp": true, "interpolate": "rgb"}, "legend": null}
      }
    },
    {
      "data": {"name": "contours"},
      "mark": {"type": "line", "color": "#000000", "strokeWidth": 1, "interpolate": "catmull-rom", "clip": true},
      "encoding": {
        "x": {"field": "A", "type": "quantitative"},
        "y": {"field": "C", "type": "quantitative"},
        "detail": {"field": "path", "type": "nominal"},
        "order": {"field": "i", "type": "quantitative"}
      }
    },
    {
      "data": {"name": "labels"},
      "mark": {"type": "point", "filled": true, "fill": "#ffffff", "stroke": "#000000", "strokeWidth": 1, "opacity": 1, "size": 4},
      "encoding": {
        "x": {"field": "A", "type": "quantitative"},
        "y": {"field": "C", "type": "quantitative"},
        "shape": {"field": "label", "type": "nominal", "legend": null, "scale": {"domain": ["87.8449", "84.3996", "80.9543", "77.509", "74.0636"], "range": ["M-23.5,-6H23.5V6H-23.5Z", "M-23.5,-6H23.5V6H-23.5Z", "M-23.5,-6H23.5V6H-23.5Z", "M-21,-6H21V6H-21Z", "M-23.5,-6H23.5V6H-23.5Z"]}}
      }
    },
    {
      "data": {"name": "labels"},
      "mark": {"type": "text", "fontSize": 11, "color": "#000000", "align": "center", "baseline": "middle"},
      "encoding": {
        "x": {"field": "A", "type": "quantitative"},
        "y": {"field": "C", "type": "quantitative"},
        "text": {"field": "label", "type": "nominal"}
      }
    },
    {
      "data": {"name": "runs"},
      "mark": {"type": "point", "shape": "circle", "filled": true, "fill": "#ff0000", "stroke": "#550000", "strokeWidth": 1, "opacity": 1, "size": 72},
      "encoding": {
        "x": {"field": "A", "type": "quantitative"},
        "y": {"field": "C", "type": "quantitative"}
      }
    },
    {
      "data": {"name": "runs"},
      "mark": {"type": "text", "fontSize": 11, "color": "#111111", "align": "right", "baseline": "middle", "dx": -8},
      "encoding": {
        "x": {"field": "A", "type": "quantitative"},
        "y": {"field": "C", "type": "quantitative"},
        "text": {"field": "run", "type": "nominal"}
      }
    },
    {
      "data": {"values": [{}]},
      "mark": {"type": "rect", "fill": "#ffffff"},
      "encoding": {
        "x": {"datum": 25.47, "type": "quantitative"},
        "x2": {"datum": 34.77},
        "y": {"datum": 11.84, "type": "quantitative"},
        "y2": {"datum": 11.193}
      }
    },
    {
      "data": {"values": [{}]},
      "mark": {"type": "text", "align": "left", "baseline": "alphabetic", "fontSize": 15.5, "lineHeight": 18.7, "color": "#000000", "text": ["Actual Factors", "B: Frother dosage = 16.00", "D: Conditioning time = 7.00"]},
      "encoding": {
        "x": {"datum": 25.77, "type": "quantitative"},
        "y": {"datum": 11.651, "type": "quantitative"}
      }
    },
    {
      "data": {"values": [{}]},
      "mark": {"type": "text", "align": "center", "baseline": "alphabetic", "fontSize": 22, "color": "#000000", "text": "Rcu", "clip": false},
      "encoding": {
        "x": {"datum": 23.93, "type": "quantitative"},
        "y": {"datum": 12.0854, "type": "quantitative"}
      }
    },
    {
      "data": {"values": [{}]},
      "mark": {"type": "rect", "filled": false, "stroke": "#000000", "strokeWidth": 2.5, "clip": false},
      "encoding": {
        "x": {"datum": 8.293, "type": "quantitative"},
        "x2": {"datum": 37.5},
        "y": {"datum": 12.322, "type": "quantitative"},
        "y2": {"datum": 7.2}
      }
    }
  ]
}
